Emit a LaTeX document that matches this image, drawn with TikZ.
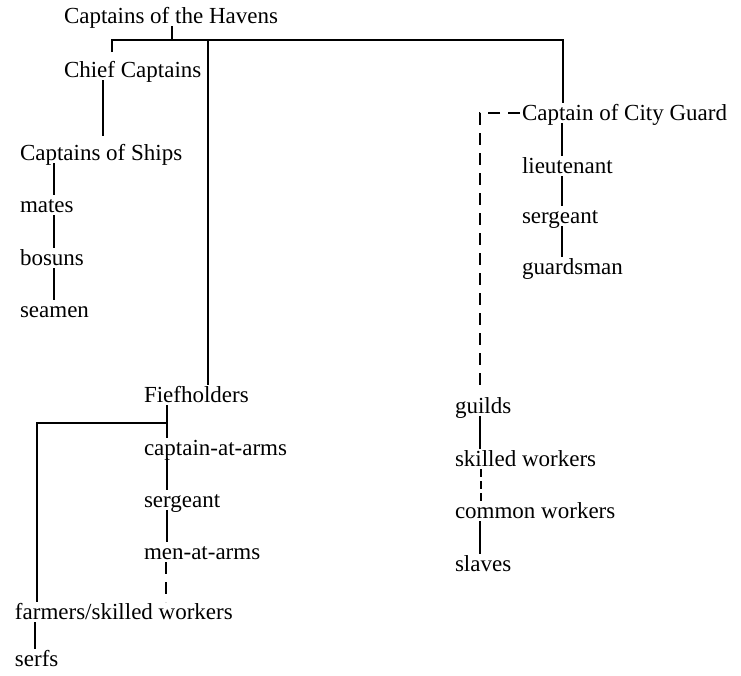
\documentclass[tikz,border=0pt]{standalone}
\usepackage{fontspec}
\setmainfont{Liberation Serif}
\usetikzlibrary{positioning}

\begin{document}
\begin{tikzpicture}[
    x=0.5pt, y=-0.5pt,
    rank/.style={anchor=base west, inner sep=0pt, outer sep=1pt, text height=7.5pt, text depth=0.5pt, font=\fontsize{11.5}{13}\selectfont},
    link/.style={line width=1.3pt},
    loose/.style={link, dash pattern=on 6pt off 4pt}
]
\useasboundingbox (0,0) rectangle (741,676);

% Havens and the ships
\node[rank] (havens) at (62,23) {Captains of the Havens};
\node[rank, below=27pt of havens.base west, anchor=base west] (chief) {Chief Captains};
\node[rank, below left=41.5pt and 22pt of chief.base west, anchor=base west] (ships) {Captains of Ships};
\node[rank, below=26pt of ships.base west, anchor=base west] (mates) {mates};
\node[rank, below=26.5pt of mates.base west, anchor=base west] (bosuns) {bosuns};
\node[rank, below=26pt of bosuns.base west, anchor=base west] (seamen) {seamen};

% City guard
\node[rank] (guard) at (520,120) {Captain of City Guard};
\node[rank, below=26.5pt of guard.base west, anchor=base west] (lieut) {lieutenant};
\node[rank, below=25pt of lieut.base west, anchor=base west] (guardsgt) {sergeant};
\node[rank, below=25.5pt of guardsgt.base west, anchor=base west] (guardsman) {guardsman};

% Fiefs
\node[rank] (fief) at (142,402) {Fiefholders};
\node[rank, below=26.5pt of fief.base west, anchor=base west] (caa) {captain-at-arms};
\node[rank, below=26pt of caa.base west, anchor=base west] (fiefsgt) {sergeant};
\node[rank, below=26pt of fiefsgt.base west, anchor=base west] (menarms) {men-at-arms};
\node[rank, below left=30pt and 64.5pt of menarms.base west, anchor=base west] (farmers) {farmers/skilled workers};
\node[rank, below=23.5pt of farmers.base west, anchor=base west] (serfs) {serfs};

% Guilds
\node[rank] (guilds) at (453,413) {guilds};
\node[rank, below=26.5pt of guilds.base west, anchor=base west] (skilled) {skilled workers};
\node[rank, below=26pt of skilled.base west, anchor=base west] (common) {common workers};
\node[rank, below=26.5pt of common.base west, anchor=base west] (slaves) {slaves};

% Top bar
\coordinate (bar) at (172,40);
\draw[link] (havens.south -| bar) -- (bar);
\draw[link] ([yshift=4pt]chief.north -| 112,0) |- (bar) -| (guard.north -| 563,0);
\draw[link] (bar -| 208,0) -- (fief.north -| 208,0);

% Ships chain
\draw[link, shorten >=3.5pt] (chief.south -| 103,0) -- (ships.north -| 103,0);
\draw[link] (ships.south -| 54,0) -- (mates.north -| 54,0);
\draw[link] (mates.south -| 54,0) -- (bosuns.north -| 54,0);
\draw[link] (bosuns.south -| 54,0) -- (seamen.north -| 54,0);

% Guard chain
\draw[link] (guard.south -| 562,0) -- (lieut.north -| 562,0);
\draw[link] (lieut.south -| 562,0) -- (guardsgt.north -| 562,0);
\draw[link] (guardsgt.south -| 562,0) -- (guardsman.north -| 562,0);
\draw[loose] (guard.west) -| ([yshift=3pt]guilds.north -| 480,0);

% Guild chain
\draw[link] (guilds.south -| 480,0) -- (skilled.north -| 480,0);
\draw[loose, dash pattern=on 4pt off 2pt] (skilled.south -| 481,0) -- (common.north -| 481,0);
\draw[link] (common.south -| 480,0) -- (slaves.north -| 480,0);

% Fief chain
\coordinate (fork) at (167,423);
\draw[link] (fief.south -| fork) -- (caa.north -| fork);
\draw[link] (fork) -| (farmers.north -| 37,0);
\draw[link] (caa.south -| fork) -- (fiefsgt.north -| fork);
\draw[link] (fiefsgt.south -| fork) -- (menarms.north -| fork);
\draw[loose] (menarms.south -| 166,0) -- (farmers.north -| 166,0);
\draw[link] (farmers.south -| 35,0) -- (serfs.north -| 35,0);

\end{tikzpicture}
\end{document}
